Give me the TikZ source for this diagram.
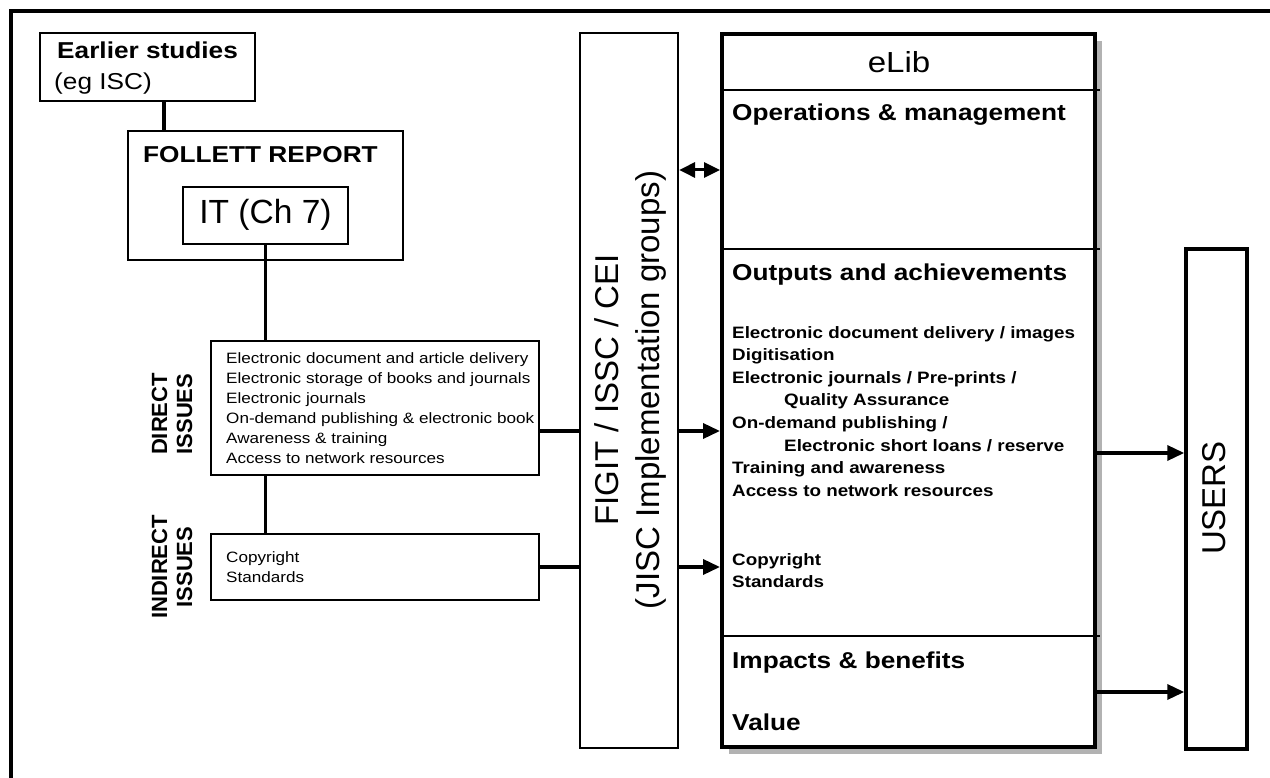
\documentclass[tikz,border=0pt]{standalone}
\usepackage{fontspec}
\setmainfont{Liberation Sans}
\newfontfamily\wide[FakeStretch=1.14]{Liberation Sans}
\usetikzlibrary{arrows.meta,shadows,calc}
\begin{document}
\begin{tikzpicture}[x=1pt,y=-1pt,
  box/.style={draw, line width=2.2, inner sep=0, fill=white},
  conn/.style={line width=3.5},
  arr/.style={line width=3.5, -{Triangle[length=17pt,width=15pt]}},
  dbl/.style={line width=3, {Triangle[length=16pt,width=15pt]}-{Triangle[length=16pt,width=15pt]}},
  rbig/.style={font=\wide\fontsize{23}{27}\selectfont, inner sep=0},
  bbig/.style={font=\wide\bfseries\fontsize{23}{27}\selectfont, inner sep=0},
  bsmall/.style={font=\wide\bfseries\fontsize{16.5}{22.6}\selectfont, inner sep=0},
  rsmall/.style={font=\wide\fontsize{15}{20}\selectfont, inner sep=0},
  vlabel/.style={rotate=90, align=center, inner sep=0}]
\useasboundingbox (0,0) rectangle (1270,778);
\draw[line width=3.5] (11,11) rectangle (1285,795);

% boxes
\node[box, minimum width=215, minimum height=68] (earlier) at (147.5,67) {};
\node[box, minimum width=275, minimum height=129] (follett) at (265.5,195.5) {};
\node[box, minimum width=165, minimum height=57] (it) at (265.5,215.5) {};
\node[box, minimum width=328, minimum height=134] (direct) at (375,408) {};
\node[box, minimum width=328, minimum height=66] (indirect) at (375,567) {};
\node[box, minimum width=98, minimum height=715] (figit) at (629,390.5) {};
\node[draw, line width=4, fill=white, inner sep=0, minimum width=373, minimum height=713,
  drop shadow={shadow xshift=7pt, shadow yshift=-7pt, fill=black!30, opacity=1}] (elib) at (908.5,390.5) {};
\node[draw, line width=3.5, fill=white, inner sep=0, minimum width=61, minimum height=500] (users) at (1216.5,499) {};

% dividers in eLib
\coordinate (d1) at (0,90);
\coordinate (d2) at (0,249);
\coordinate (d3) at (0,636);
\foreach \d in {d1,d2,d3}
  \draw[line width=1.6] (elib.west |- \d) -- ([xshift=3pt]elib.east |- \d);

% texts
\node[bbig, anchor=base west] (tearlier) at (57,59) {Earlier studies};
\node[rbig, anchor=base west] (teg) at (54,90) {(eg ISC)};
\node[bbig, anchor=base west] (tfollett) at (143,163) {FOLLETT REPORT};
\node[font=\fontsize{33.5}{38}\selectfont, anchor=base, inner sep=0] (tit) at (265.5,224) {IT (Ch 7)};

\foreach \t/\y [count=\i] in {{Electronic document and article delivery}/363,
  {Electronic storage of books and journals}/383,
  {Electronic journals}/403,
  {On-demand publishing \& electronic book}/423,
  {Awareness \& training}/443,
  {Access to network resources}/463,
  {Copyright}/562,
  {Standards}/582}
  \node[rsmall, anchor=base west] (iss\i) at (226,\y) {\t};

\node[vlabel, font=\bfseries\fontsize{22}{25}\selectfont] (tdirect) at (172,414) {DIRECT\\ISSUES};
\node[vlabel, font=\bfseries\fontsize{22}{25}\selectfont] (tindirect) at (172,567) {INDIRECT\\ISSUES};

\node[vlabel, font=\fontsize{33}{41}\selectfont] (tfigit) at (630,390) {FIGIT / ISSC / CEI\\(JISC Implementation groups)};

\node[font=\wide\fontsize{29}{33}\selectfont, anchor=base, inner sep=0] (telib) at (899,73) {eLib};
\node[bbig, anchor=base west] (tops) at (732,121) {Operations \& management};
\node[bbig, anchor=base west] (touts) at (732,280) {Outputs and achievements};
\foreach \t/\x/\y [count=\i] in {{Electronic document delivery / images}/732/338,
  {Digitisation}/732/360,
  {Electronic journals / Pre-prints /}/732/383,
  {Quality Assurance}/784/405,
  {On-demand publishing /}/732/428,
  {Electronic short loans / reserve}/784/451,
  {Training and awareness}/732/473,
  {Access to network resources}/732/496,
  {Copyright}/732/565,
  {Standards}/732/587}
  \node[bsmall, anchor=base west] (out\i) at (\x,\y) {\t};
\node[bbig, anchor=base west] (timp) at (732,668) {Impacts \& benefits};
\node[bbig, anchor=base west] (tval) at (732,730) {Value};

\node[vlabel, font=\fontsize{33}{40}\selectfont] (tusers) at (1214,498) {USERS};

% connectors
\coordinate (c1) at (164,0);
\coordinate (r0) at (0,170);
\coordinate (r1) at (0,431);
\coordinate (u1) at (0,453);
\coordinate (u2) at (0,692);
\draw[conn] (earlier.south -| c1) -- (follett.north -| c1);
\draw[conn] (it.south) -- (direct.north -| it.south);
\draw[conn] (direct.south -| it.south) -- (indirect.north -| it.south);
\draw[conn] (direct.east |- r1) -- (figit.west |- r1);
\draw[arr] (figit.east |- r1) -- (elib.west |- r1);
\draw[conn] (indirect.east) -- (figit.west |- indirect.east);
\draw[arr] (figit.east |- indirect.east) -- (elib.west |- indirect.east);
\draw[dbl] (figit.east |- r0) -- (elib.west |- r0);
\draw[arr] (elib.east |- u1) -- (users.west |- u1);
\draw[arr] (elib.east |- u2) -- (users.west |- u2);
\end{tikzpicture}
\end{document}
